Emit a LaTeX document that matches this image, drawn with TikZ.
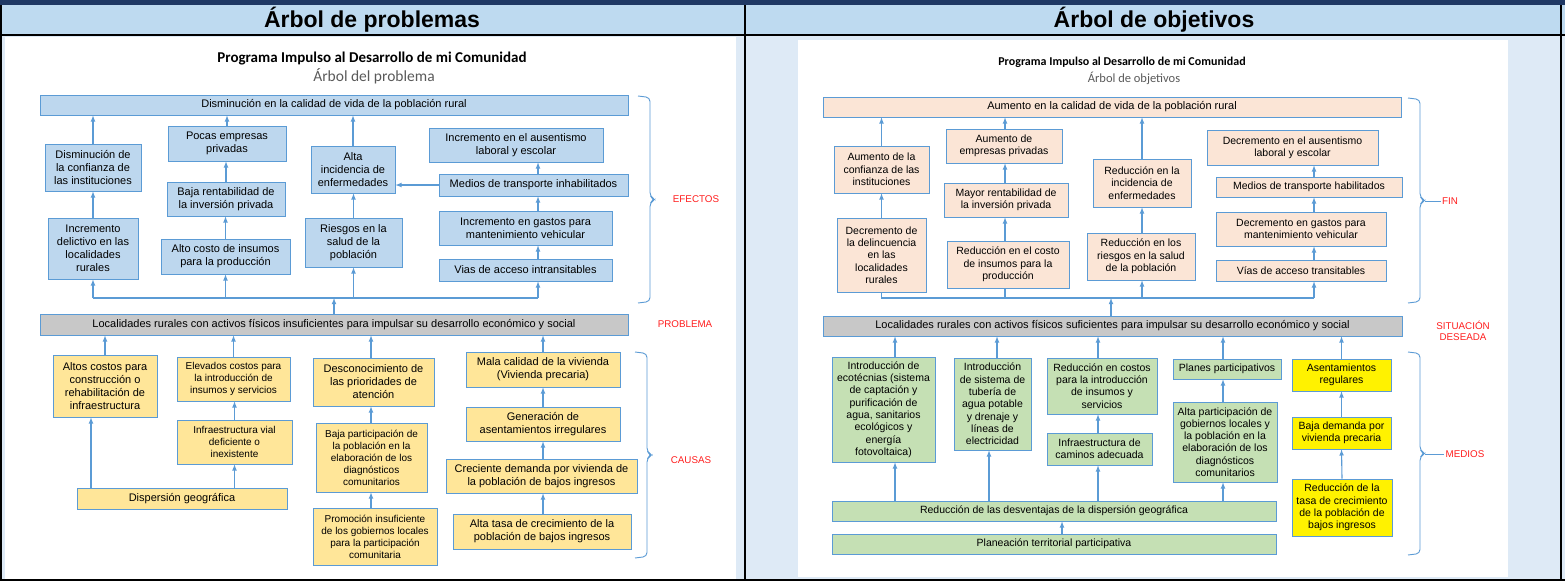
\documentclass[tikz,border=0pt]{standalone}
\usepackage{fontspec}
\setmainfont{Liberation Sans}
\newfontfamily\calibri{Carlito}
\usetikzlibrary{decorations.pathreplacing}

\definecolor{azul}{RGB}{91,155,213}
\definecolor{azulclaro}{RGB}{189,215,238}
\definecolor{gris}{RGB}{200,200,200}
\definecolor{amarillo}{RGB}{255,230,153}
\definecolor{durazno}{RGB}{251,229,214}
\definecolor{verde}{RGB}{197,224,180}
\definecolor{marino}{RGB}{31,56,100}
\definecolor{cabeza}{RGB}{190,218,240}
\definecolor{fondo}{RGB}{222,234,246}
\definecolor{rojo}{RGB}{255,30,30}
\definecolor{subgris}{RGB}{90,90,90}

% caja: estilo, nombre, x1, y1, x2, y2, texto
\newcommand{\caja}[7]{\node[#1, minimum width={#5-#3}, minimum height={#6-#4}] (#2) at ({(#3+#5)/2},{(#4+#6)/2}) {#7};}
% llave: x, y arriba, y abajo
\newcommand{\llave}[3]{\draw[llave] (#1,#2) -- (#1+12,#2+1.5) -- (#1+12,{(#2+#3)/2-3}) -- (#1+17,{(#2+#3)/2}) -- (#1+12,{(#2+#3)/2+3}) -- (#1+12,#3-1.5) -- (#1,#3);}

\tikzset{
  caja/.style={draw=azul, line width=0.8pt, align=center, inner sep=1pt, font=\fontsize{11}{13}\selectfont},
  efecto/.style={caja, fill=azulclaro},
  causa/.style={caja, fill=amarillo},
  central/.style={caja, fill=gris, font=\fontsize{11}{13}\selectfont},
  fin/.style={caja, fill=durazno, font=\fontsize{10.5}{12.3}\selectfont},
  medio/.style={caja, fill=verde, font=\fontsize{10.5}{12.3}\selectfont},
  medioam/.style={caja, fill=yellow, font=\fontsize{10.5}{12.3}\selectfont},
  angosta/.style={font=\fontsize{10}{12}\selectfont},
  ancha/.style={font=\fontsize{11}{13}\selectfont},
  flecha/.style={->, >=latex, draw=azul, line width=1.1pt},
  linea/.style={draw=azul, line width=1.1pt},
  llave/.style={draw=azul, line width=0.9pt, rounded corners=4pt},
  etiqueta/.style={text=rojo, font=\fontsize{9.8}{11}\selectfont, align=center, inner sep=1pt},
  encabezado/.style={font=\bfseries\fontsize{23}{26}\selectfont},
}

\begin{document}
\begin{tikzpicture}[x=1pt, y=-1pt]
  \useasboundingbox (0,0) rectangle (1565,581);
  % marco y encabezados
  \fill[marino] (0,0) rectangle (1565,5);
  \fill[cabeza] (0,5) rectangle (1565,35);
  \fill[fondo] (0,35) rectangle (1565,581);
  \fill[white] (5,37) rectangle (736,579);
  \fill[white] (798,40) rectangle (1508,577);
  \draw[line width=1.6pt] (0,35) -- (1565,35);
  \draw[line width=1.6pt] (745,5) -- (745,581);
  \draw[line width=1.6pt] (1,5) -- (1,581);
  \draw[line width=1.6pt] (1561,5) -- (1561,581);
  \draw[line width=1.6pt] (0,580) -- (1565,580);
  \node[encabezado] (tprob) at (372,20) {Árbol de problemas};
  \node[encabezado] (tobj) at (1154,20) {Árbol de objetivos};

  % ---------------- arbol de problemas ----------------
  \node[font=\calibri\bfseries\fontsize{15}{17}\selectfont] (prog1) at (372,59) {Programa Impulso al Desarrollo de mi Comunidad};
  \node[font=\calibri\fontsize{15.5}{17}\selectfont, text=subgris] (sub1) at (374,76) {Árbol del problema};

  \caja{efecto, ancha}{e0}{40}{95}{628}{115}{Disminución en la calidad de vida de la población rural}
  \caja{efecto}{e1a}{45}{144}{141}{191}{Disminución de\\la confianza de\\las instituciones}
  \caja{efecto}{e1b}{48}{218}{138}{279}{Incremento\\delictivo en las\\localidades\\rurales}
  \caja{efecto}{e2a}{168}{126}{286}{161}{Pocas empresas\\privadas}
  \caja{efecto}{e2b}{167}{182}{285}{216}{Baja rentabilidad de\\la inversión privada}
  \caja{efecto}{e2c}{161}{239}{290}{274}{Alto costo de insumos\\para la producción}
  \caja{efecto}{e3a}{311}{146}{395}{193}{Alta\\incidencia de\\enfermedades}
  \caja{efecto}{e3b}{305}{218}{402}{267}{Riesgos en la\\salud de la\\población}
  \caja{efecto}{e4a}{429}{128}{603}{162}{Incremento en el ausentismo\\laboral y escolar}
  \caja{efecto}{e4b}{439}{174}{628}{196}{Medios de transporte inhabilitados}
  \caja{efecto}{e4c}{439}{211}{612}{245}{Incremento en gastos para\\mantenimiento vehicular}
  \caja{efecto}{e4d}{439}{259}{612}{281}{Vias de acceso intransitables}
  \caja{central}{p0}{40}{314}{628}{335}{Localidades rurales con activos físicos insuficientes para impulsar su desarrollo económico y social}

  \caja{causa}{c1a}{53}{355}{157}{417}{Altos costos para\\construcción o\\rehabilitación de\\infraestructura}
  \caja{causa, angosta}{c2a}{177}{357}{290}{401}{Elevados costos para\\la introducción de\\insumos y servicios}
  \caja{causa, angosta}{c2b}{177}{420}{292}{464}{Infraestructura vial\\deficiente o\\inexistente}
  \caja{causa}{d1}{77}{488}{287}{509}{Dispersión geográfica}
  \caja{causa}{c3a}{313}{358}{434}{406}{Desconocimiento de\\las prioridades de\\atención}
  \caja{causa, angosta}{c3b}{316}{423}{427}{492}{Baja participación de\\la población en la\\elaboración de los\\diagnósticos\\comunitarios}
  \caja{causa, angosta}{c3c}{313}{508}{437}{565}{Promoción insuficiente\\de los gobiernos locales\\para la participación\\comunitaria}
  \caja{causa}{c4a}{466}{352}{620}{387}{Mala calidad de la vivienda\\(Vivienda precaria)}
  \caja{causa}{c4b}{466}{407}{620}{441}{Generación de\\asentamientos irregulares}
  \caja{causa}{c4c}{446}{459}{637}{493}{Creciente demanda por vivienda de\\la población de bajos ingresos}
  \caja{causa}{c4d}{453}{514}{631}{549}{Alta tasa de crecimiento de la\\población de bajos ingresos}

  \coordinate (ke4) at (538,0);
  \coordinate (bE) at (334,298);
  \coordinate (kc1) at (91,0);
  \coordinate (kc3) at (371,0);
  \coordinate (kc4) at (543,0);

  \draw[flecha] (e1a.north) -- (e1a.north |- e0.south);
  \draw[flecha] (e1b.north) -- (e1b.north |- e1a.south);
  \draw[flecha] (e2a.north) -- (e2a.north |- e0.south);
  \draw[flecha] (e2b.north) -- (e2b.north |- e2a.south);
  \draw[flecha] (e2c.north) -- (e2c.north |- e2b.south);
  \draw[flecha] (e3a.north) -- (e3a.north |- e0.south);
  \draw[flecha] (e3b.north) -- (e3b.north |- e3a.south);
  \draw[flecha] (e4b.west) -- (e3a.east |- e4b.west);
  \draw[flecha] (ke4 |- e4b.north) -- (ke4 |- e4a.south);
  \draw[flecha] (ke4 |- e4c.north) -- (ke4 |- e4b.south);
  \draw[flecha] (ke4 |- e4d.north) -- (ke4 |- e4c.south);
  \draw[flecha] (p0.north -| bE) -- (bE);
  \draw[linea] (e1b.south |- bE) -- (ke4 |- bE);
  \draw[flecha] (e1b.south |- bE) -- (e1b.south);
  \draw[flecha] (e2c.south |- bE) -- (e2c.south);
  \draw[flecha] (e3b.south |- bE) -- (e3b.south);
  \draw[flecha] (ke4 |- bE) -- (ke4 |- e4d.south);

  \draw[flecha] (c1a.north) -- (c1a.north |- p0.south);
  \draw[flecha] (kc1 |- d1.north) -- (kc1 |- c1a.south);
  \draw[flecha] (c2a.north) -- (c2a.north |- p0.south);
  \draw[flecha] (c2b.north) -- (c2b.north |- c2a.south);
  \draw[flecha] (c2b.south |- d1.north) -- (c2b.south);
  \draw[flecha] (kc3 |- c3a.north) -- (kc3 |- p0.south);
  \draw[flecha] (kc3 |- c3b.north) -- (kc3 |- c3a.south);
  \draw[flecha] (kc3 |- c3c.north) -- (kc3 |- c3b.south);
  \draw[flecha] (kc4 |- c4a.north) -- (kc4 |- p0.south);
  \draw[flecha] (kc4 |- c4b.north) -- (kc4 |- c4a.south);
  \draw[flecha] (kc4 |- c4c.north) -- (kc4 |- c4b.south);
  \draw[flecha] (kc4 |- c4d.north) -- (kc4 |- c4c.south);

  \llave{638}{96}{303}
  \llave{635}{352}{558}
  \node[etiqueta] (lef) at (696,199) {EFECTOS};
  \node[etiqueta] (lpr) at (685,324) {PROBLEMA};
  \node[etiqueta] (lca) at (691,460) {CAUSAS};

  % ---------------- arbol de objetivos ----------------
  \node[font=\calibri\bfseries\fontsize{12}{14}\selectfont] (prog2) at (1122,62) {Programa Impulso al Desarrollo de mi Comunidad};
  \node[font=\calibri\fontsize{12.5}{14}\selectfont, text=subgris] (sub2) at (1134,78) {Árbol de objetivos};

  \caja{fin, ancha}{f0}{823}{97}{1401}{117}{Aumento en la calidad de vida de la población rural}
  \caja{fin}{f1a}{834}{146}{929}{193}{Aumento de la\\confianza de las\\instituciones}
  \caja{fin}{f1b}{837}{218}{926}{292}{Decremento de\\la delincuencia\\en las\\localidades\\rurales}
  \caja{fin}{f2a}{946}{129}{1062}{163}{Aumento de\\empresas privadas}
  \caja{fin}{f2b}{944}{183}{1068}{217}{Mayor rentabilidad de\\la inversión privada}
  \caja{fin}{f2c}{947}{241}{1069}{288}{Reducción en el costo\\de insumos para la\\producción}
  \caja{fin}{f3a}{1093}{159}{1191}{207}{Reducción en la\\incidencia de\\enfermedades}
  \caja{fin}{f3b}{1087}{233}{1195}{280}{Reducción en los\\riesgos en la salud\\de la población}
  \caja{fin}{f4a}{1207}{130}{1378}{165}{Decremento en el ausentismo\\laboral y escolar}
  \caja{fin}{f4b}{1216}{177}{1402}{197}{Medios de transporte habilitados}
  \caja{fin}{f4c}{1216}{212}{1386}{246}{Decremento en gastos para\\mantenimiento vehicular}
  \caja{fin}{f4d}{1216}{260}{1386}{281}{Vías de acceso transitables}
  \caja{central}{s0}{823}{316}{1402}{336}{Localidades rurales con activos físicos suficientes para impulsar su desarrollo económico y social}

  \caja{medio}{m1}{832}{357}{935}{462}{Introducción de\\ecotécnias (sistema\\de captación y\\purificación de\\agua, sanitarios\\ecológicos y\\energía\\fotovoltaica)}
  \caja{medio}{m2}{954}{358}{1031}{450}{Introducción\\de sistema de\\tubería de\\agua potable\\y drenaje y\\líneas de\\electricidad}
  \caja{medio}{m3a}{1047}{358}{1157}{414}{Reducción en costos\\para la introducción\\de insumos y\\servicios}
  \caja{medio}{m3b}{1047}{433}{1152}{465}{Infraestructura de\\caminos adecuada}
  \caja{medio}{m4a}{1173}{359}{1281}{379}{Planes participativos}
  \caja{medio}{m4b}{1173}{402}{1277}{482}{Alta participación de\\gobiernos locales y\\la población en la\\elaboración de los\\diagnósticos\\comunitarios}
  \caja{medioam}{m5a}{1292}{359}{1391}{391}{Asentamientos\\regulares}
  \caja{medioam}{m5b}{1292}{417}{1391}{449}{Baja demanda por\\vivienda precaria}
  \caja{medioam}{m5c}{1292}{479}{1392}{536}{Reducción de la\\tasa de crecimiento\\de la población de\\bajos ingresos}
  \caja{medio}{dv}{832}{501}{1276}{521}{Reducción de las desventajas de la dispersión geográfica}
  \caja{medio}{pl}{832}{534}{1276}{554}{Planeación territorial participativa}

  \coordinate (kf2) at (1005,0);
  \coordinate (kf3) at (1142,0);
  \coordinate (kf4) at (1314,0);
  \coordinate (bF) at (1111,298);
  \coordinate (km1) at (895,0);
  \coordinate (km2) at (997,0);
  \coordinate (km2b) at (989,0);
  \coordinate (km3) at (1098,0);
  \coordinate (km4) at (1223,0);
  \coordinate (kpl) at (1062,0);

  \draw[flecha] (f1a.north) -- (f1a.north |- f0.south);
  \draw[flecha] (f1b.north) -- (f1b.north |- f1a.south);
  \draw[flecha] (kf2 |- f2a.north) -- (kf2 |- f0.south);
  \draw[flecha] (kf2 |- f2b.north) -- (kf2 |- f2a.south);
  \draw[flecha] (kf2 |- f2c.north) -- (kf2 |- f2b.south);
  \draw[flecha] (kf3 |- f3a.north) -- (kf3 |- f0.south);
  \draw[flecha] (kf3 |- f3b.north) -- (kf3 |- f3a.south);
  \draw[flecha] (kf4 |- f4b.north) -- (kf4 |- f4a.south);
  \draw[flecha] (kf4 |- f4c.north) -- (kf4 |- f4b.south);
  \draw[flecha] (kf4 |- f4d.north) -- (kf4 |- f4c.south);
  \draw[flecha] (s0.north -| bF) -- (bF);
  \draw[linea] (f1b.south) -- (f1b.south |- bF) -- (kf4 |- bF);
  \draw[linea] (kf2 |- f2c.south) -- (kf2 |- bF);
  \draw[flecha] (kf3 |- bF) -- (kf3 |- f3b.south);
  \draw[flecha] (kf4 |- bF) -- (kf4 |- f4d.south);

  \draw[flecha] (km1 |- m1.north) -- (km1 |- s0.south);
  \draw[flecha] (km1 |- dv.north) -- (km1 |- m1.south);
  \draw[flecha] (km2 |- m2.north) -- (km2 |- s0.south);
  \draw[flecha] (km2b |- dv.north) -- (km2b |- m2.south);
  \draw[flecha] (km3 |- m3a.north) -- (km3 |- s0.south);
  \draw[flecha] (km3 |- m3b.north) -- (km3 |- m3a.south);
  \draw[flecha] (km3 |- dv.north) -- (km3 |- m3b.south);
  \draw[flecha] (km4 |- m4a.north) -- (km4 |- s0.south);
  \draw[flecha] (km4 |- m4b.north) -- (km4 |- m4a.south);
  \draw[flecha] (km4 |- dv.north) -- (km4 |- m4b.south);
  \draw[flecha] (m5a.north) -- (m5a.north |- s0.south);
  \draw[flecha] (m5b.north) -- (m5a.south);
  \draw[flecha] (m5c.north) -- (m5b.south);
  \draw[flecha] (kpl |- pl.north) -- (kpl |- dv.south);

  \llave{1408}{98}{303}
  \llave{1408}{352}{555}
  \node[etiqueta] (lfi) at (1450,201) {FIN};
  \node[etiqueta] (lsi) at (1463,331) {SITUACIÓN\\DESEADA};
  \node[etiqueta] (lme) at (1465,454) {MEDIOS};
  \coordinate (pfi) at (1425,201);
  \coordinate (pme) at (1425,454);
  \draw[linea, line width=0.9pt] (pfi) -- (pfi -| lfi.west);
  \draw[linea, line width=0.9pt] (pme) -- (pme -| lme.west);
\end{tikzpicture}
\end{document}
